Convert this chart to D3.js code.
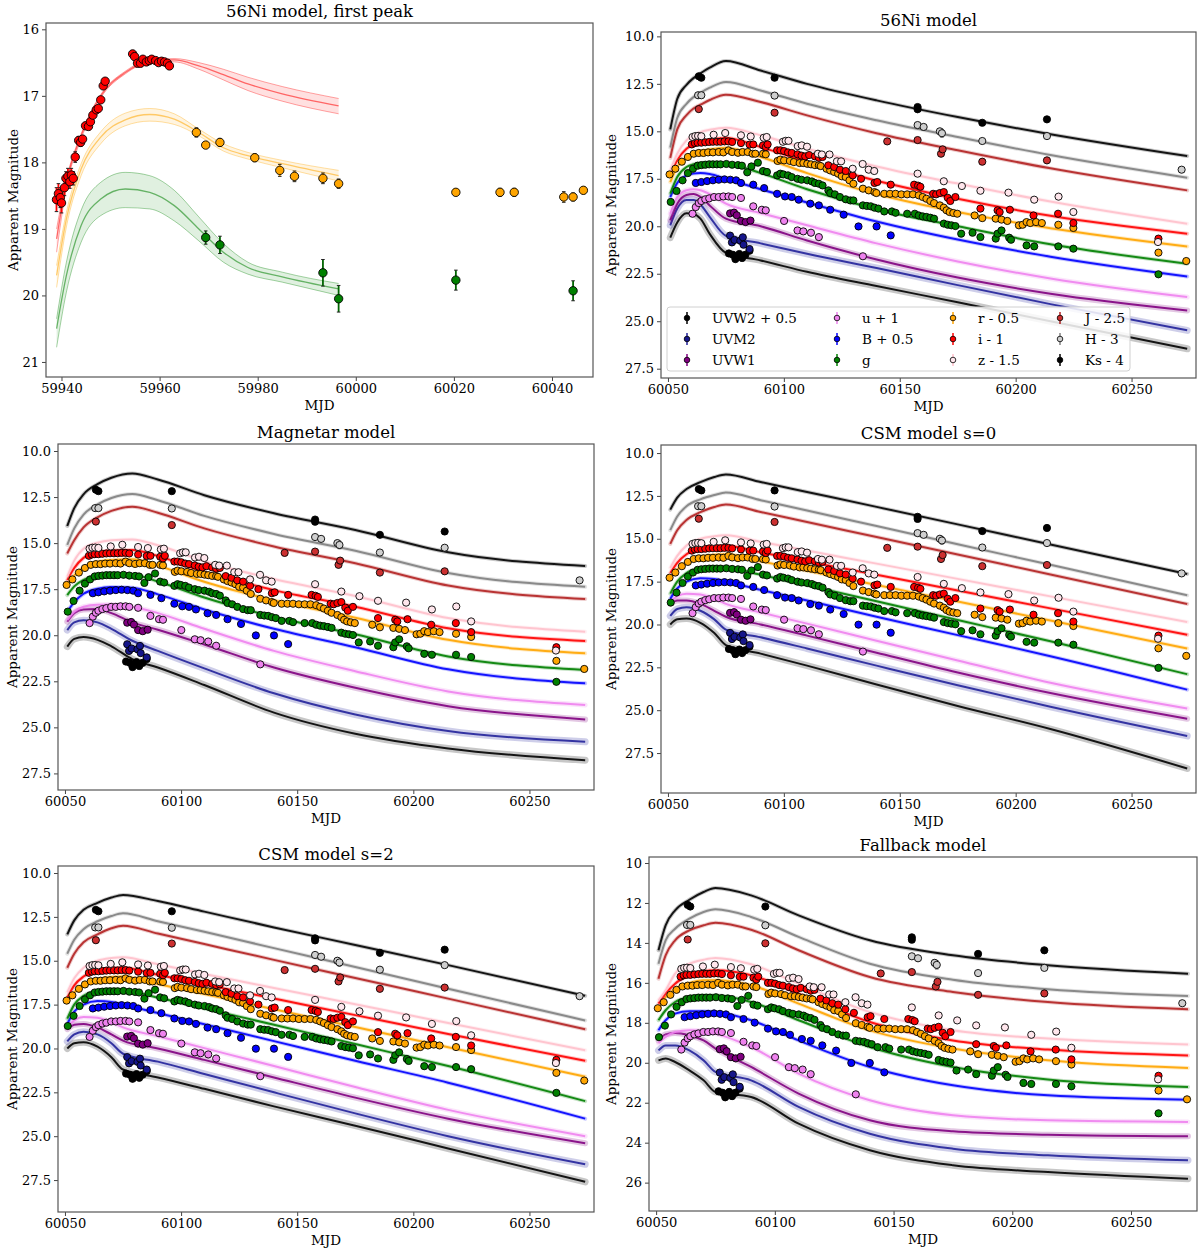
<!DOCTYPE html>
<html>
<head>
<meta charset="utf-8">
<script src="https://cdn.jsdelivr.net/npm/d3@7"></script>
<style>
  body { margin: 0; background: #fff; }
  svg text { font-family: "DejaVu Serif", serif; }
</style>
</head>
<body>
<svg id="fig" width="1200" height="1253"></svg>
<script>
// ---------- bands (plot order) ----------
var bandKeys   = ["UVW2", "UVM2", "UVW1", "u", "B", "g", "r", "i", "z", "J", "H", "Ks"];
var bandLabels = ["UVW2 + 0.5", "UVM2", "UVW1", "u + 1", "B + 0.5", "g", "r - 0.5", "i - 1", "z - 1.5", "J - 2.5", "H - 3", "Ks - 4"];

// ---------- first peak (panel 1) ----------
var fpGrid = [59939, 59941, 59944, 59948, 59953, 59958, 59963, 59968, 59973, 59978, 59985, 59996.5];
var fpRedLo = [19.0, 18.25, 17.57, 16.98, 16.63, 16.46, 16.44, 16.5, 16.6, 16.72, 16.86, 17.04];
var fpRedMid = [19.15, 18.3, 17.6, 17.0, 16.65, 16.48, 16.46, 16.55, 16.68, 16.82, 16.97, 17.15];
var fpRedHi = [19.35, 18.38, 17.65, 17.03, 16.67, 16.5, 16.49, 16.6, 16.76, 16.92, 17.08, 17.27];
var fpOrangeLo = [19.55, 18.75, 18.02, 17.54, 17.26, 17.19, 17.27, 17.5, 17.72, 17.85, 17.97, 18.12];
var fpOrangeMid = [19.7, 18.85, 18.1, 17.62, 17.36, 17.28, 17.35, 17.55, 17.78, 17.9, 18.02, 18.2];
var fpOrangeHi = [19.88, 18.97, 18.2, 17.72, 17.45, 17.38, 17.43, 17.6, 17.83, 17.95, 18.08, 18.28];
var fpGreenLo = [20.35, 19.5, 18.72, 18.3, 18.15, 18.2, 18.42, 18.82, 19.22, 19.5, 19.65, 19.82];
var fpGreenMid = [20.5, 19.7, 18.95, 18.55, 18.4, 18.45, 18.65, 19.0, 19.35, 19.58, 19.72, 19.9];
var fpGreenHi = [20.78, 19.95, 19.2, 18.8, 18.68, 18.7, 18.88, 19.18, 19.5, 19.68, 19.8, 20.0];

var fpRedObs = [[59938.98,18.56,.18],[59939.37,18.47,.15],[59939.76,18.53,.15],[59940.0,18.61,.15],[59940.6,18.38,.12],
  [59940.9,18.24,.1],[59941.3,18.21,.12],[59941.7,18.29,.1],[59942.0,18.19,.1],[59942.4,18.24,.1],[59942.8,17.92,.08],
  [59943.5,17.67,.06],[59943.9,17.7,.06],[59944.3,17.65,.05],[59944.9,17.45],[59945.5,17.46],[59945.9,17.39],
  [59946.4,17.29],[59947.1,17.21],[59947.5,17.19],[59948.0,17.06],[59948.5,16.85],[59948.9,16.78],
  [59954.5,16.37],[59954.9,16.41],[59955.5,16.51],[59956.1,16.51],[59956.6,16.45],[59957.3,16.49],[59957.9,16.47],
  [59958.4,16.45],[59959.2,16.47],[59959.8,16.5],[59960.4,16.48],[59961.0,16.49],[59961.6,16.51],[59962.0,16.55]];
var fpOrangeObs = [[59967.5,17.55,.07],[59969.4,17.74,.05],[59972.3,17.7,.06],[59979.4,17.93,.06],[59984.5,18.12,.09],
  [59987.5,18.21,.08],[59993.3,18.24,.08],[59996.5,18.32,.07],[60020.4,18.45,.05],[60029.4,18.45,.06],
  [60032.3,18.45,.06],[60042.4,18.52,.08],[60044.3,18.52,.06],[60046.4,18.42,.05]];
var fpGreenObs = [[59969.4,19.13,.1],[59972.3,19.24,.13],[59993.3,19.66,.2],[59996.5,20.05,.2],[60020.4,19.77,.15],[60044.3,19.93,.15]];

// ---------- observed light curve (panels 2-6), offsets already applied ----------
var obsUVW2 = [[60076.3,21.43,.15],[60078.0,21.5,.15],[60079.1,21.73,.15],[60080.8,21.46,.15],[60082.0,21.67,.15],[60083.4,21.5,.15],[60085.2,21.29,.15]];
var obsUVM2 = [[60076.8,20.49,.12],[60077.6,20.85,.15],[60078.7,20.72,.12],[60081.2,20.76,.15],[60082.3,20.58,.12],[60082.6,20.97,.15],[60085.2,21.2,.15]];
var obsUVW1 = [[60076.8,19.32,.08],[60078.5,19.28,.08],[60079.7,19.42,.08],[60081.5,19.72,.1],[60083.5,19.78,.1],[60085.6,19.7,.1]];
var obsU = [[60060.6,19.34],[60062.0,18.99],[60063.3,18.78],[60064.4,18.67],[60066.1,18.58],[60067.8,18.53],[60069.9,18.46],
  [60071.9,18.46],[60073.9,18.43],[60076.1,18.43],[60077.7,18.46],[60081.5,18.51],[60086.8,18.95],[60090.5,19.13],
  [60092.2,19.16],[60100.1,19.72,.12],[60105.9,20.22],[60108.4,20.27],[60111.7,20.34],[60115.1,20.57],[60134.1,21.58]];
var obsB = [[60062.0,17.72],[60064.4,17.67],[60066.9,17.62],[60069.4,17.58],[60071.9,17.55],[60074.4,17.53],[60076.9,17.55],
  [60079.4,17.58],[60081.5,17.72],[60086.8,17.81],[60091.5,17.99],[60097.1,18.29,.1],[60100.5,18.43],[60103.4,18.46],
  [60106.4,18.6],[60111.4,18.81],[60115.1,18.9],[60120.0,19.13],[60125.8,19.39],[60132.2,20.01,.12],[60140.0,20.01],[60146.1,20.48]];
var obsG = [[60051.2,18.72],[60053.7,18.14],[60056.3,17.58],[60058.6,17.2],[60060.8,16.97],[60062.8,16.81],[60064.4,16.78],
  [60066.1,16.76],[60067.8,16.74],[60069.4,16.74],[60071.1,16.74],[60072.7,16.74],[60075.2,16.72],[60077.7,16.76],
  [60080.2,16.78],[60081.9,16.81],[60084.2,17.16,.1],[60086.0,16.85],[60088.8,16.65,.08],[60091.0,17.09],[60092.7,17.14],
  [60097.1,17.32,.1],[60098.5,17.23],[60099.8,17.27],[60101.8,17.32],[60103.4,17.41],[60105.9,17.5],[60107.6,17.55],
  [60110.1,17.58],[60112.1,17.64],[60113.4,17.72],[60115.1,17.76],[60116.7,17.85],[60119.2,18.11],[60120.0,18.25],
  [60122.0,18.32],[60124.2,18.46],[60126.7,18.58],[60128.7,18.64],[60130.0,18.64],[60134.1,18.9],[60135.8,18.93],
  [60137.5,18.95],[60139.1,19.02],[60140.8,19.07],[60143.3,19.22],[60146.6,19.22],[60148.2,19.29],[60153.2,19.34],
  [60156.5,19.34],[60158.2,19.43,.1],[60159.9,19.48],[60161.5,19.51],[60163.2,19.55],[60164.8,19.6],[60169.0,19.86],
  [60170.7,19.92],[60172.3,19.95],[60174.0,19.99],[60176.5,20.39],[60181.4,20.34],[60184.8,20.57],[60191.4,20.65,.12],
  [60192.2,20.39],[60193.9,20.22],[60197.2,20.6],[60198.0,20.71],[60204.7,21.01,.15],[60208.0,21.06],[60218.4,21.06],
  [60224.9,21.18],[60261.6,22.53,.12]];
var obsR = [[60050.7,17.27],[60053.2,16.97],[60056.0,16.6],[60058.6,16.35],[60061.1,16.18],[60063.3,16.14],[60065.3,16.14],
  [60067.3,16.11],[60069.4,16.11],[60071.9,16.09],[60073.9,16.11],[60076.1,16.0],[60077.7,16.09],[60080.2,16.13],
  [60082.2,16.09],[60084.4,16.09],[60086.5,16.18],[60087.7,16.18],[60091.0,16.18],[60092.2,16.21],[60097.3,16.56],
  [60098.5,16.49],[60100.1,16.53],[60102.6,16.56],[60104.3,16.62],[60106.8,16.67],[60108.4,16.67],[60110.1,16.71],
  [60111.7,16.74],[60113.4,16.78],[60115.1,16.79],[60115.9,16.83],[60118.4,16.97],[60120.0,17.06],[60121.7,17.14],
  [60123.4,17.23],[60125.0,17.37],[60126.7,17.41],[60128.3,17.58],[60130.0,17.76],[60134.1,18.02],[60136.6,18.11],
  [60139.1,18.2],[60139.9,18.25],[60143.3,18.29],[60145.8,18.29],[60148.2,18.29],[60150.7,18.32],[60153.2,18.32],
  [60155.7,18.32],[60158.2,18.37],[60159.9,18.46],[60161.5,18.55],[60163.2,18.67],[60164.8,18.78],[60167.3,18.9],
  [60169.0,19.02],[60170.2,19.16],[60171.5,19.25],[60173.1,19.3],[60174.8,19.34],[60182.3,19.43,.1],[60185.6,19.57,.1],
  [60191.4,19.6,.1],[60193.9,19.65,.1],[60196.4,19.72],[60201.4,19.95,.1],[60203.0,19.92],[60204.7,19.78],[60206.3,19.83],
  [60208.8,19.78,.1],[60211.3,19.83],[60218.4,19.92],[60224.9,20.09],[60261.6,21.39,.1],[60273.6,21.83,.12]];
var obsI = [[60060.3,15.69],[60061.6,15.62],[60062.8,15.6],[60064.4,15.6],[60066.1,15.58],[60067.8,15.56],[60069.4,15.55],
  [60071.1,15.55],[60072.7,15.55],[60074.4,15.53],[60076.1,15.53],[60077.7,15.56],[60081.5,15.62],[60085.2,15.7],
  [60086.8,15.69],[60091.0,15.74],[60092.2,15.83],[60093.0,15.69],[60097.1,16.0],[60098.5,16.0],[60100.1,16.04],
  [60101.8,16.11],[60103.4,16.14],[60105.9,16.21],[60107.6,16.28],[60109.2,16.32],[60110.9,16.25],[60113.4,16.32],
  [60115.1,16.39],[60116.7,16.35],[60119.2,16.79],[60121.7,16.88],[60124.2,17.02],[60126.7,17.09],[60129.7,17.32],
  [60133.3,17.5],[60139.1,17.72],[60140.3,17.67],[60146.1,17.81],[60156.2,17.81],[60157.9,17.86],[60158.9,17.92],
  [60164.4,18.29],[60165.7,18.32],[60167.3,18.25],[60169.0,18.2],[60170.7,18.5],[60171.8,18.67],[60174.0,18.46],
  [60184.8,19.07],[60192.2,19.16],[60193.1,19.25],[60197.5,19.13],[60207.7,19.43],[60218.3,19.34],[60224.9,19.83],
  [60261.6,20.65,.1]];
var obsZ = [[60060.6,15.3],[60061.8,15.25],[60063.0,15.24],[60064.4,15.26],[60069.7,15.18],[60074.7,15.09],[60081.5,15.21],
  [60085.7,15.27],[60091.3,15.34],[60092.6,15.3],[60099.6,15.55],[60100.8,15.5],[60102.0,15.5],[60106.0,15.78],
  [60107.7,15.74],[60110.0,15.81],[60114.7,16.18],[60116.4,16.22],[60119.7,16.22],[60122.9,16.58],[60124.7,16.58],
  [60129.7,16.97,.12],[60134.0,16.72],[60136.6,17.02],[60139.0,17.09],[60157.7,17.23],[60169.0,17.63],[60176.8,17.88],
  [60184.8,18.13],[60196.9,18.23],[60208.0,18.6],[60218.5,18.44],[60224.9,19.25,.08],[60261.4,20.83,.1]];
var obsJ = [[60063.3,13.83],[60096.0,14.02],[60144.6,15.53,.1],[60157.7,15.46],[60167.8,16.18,.15],[60168.5,15.95,.12],[60185.6,16.6],[60213.5,16.53]];
var obsH = [[60063.0,13.1],[60064.4,13.1],[60096.0,13.12],[60157.7,14.67],[60160.3,14.77,.12],[60167.3,15.0,.15],[60168.2,15.1,.2],[60185.6,15.51],[60213.5,15.25],[60271.6,17.02,.08]];
var obsKs = [[60063.3,12.1,.12],[60064.4,12.18,.12],[60096.0,12.18],[60157.7,13.72,.1],[60157.7,13.84],[60185.6,14.55],[60213.5,14.37]];

// ---------- model curves, one row per band (bandKeys order) ----------
var niGrid = [60051, 60054, 60058, 60061, 60064, 60068, 60075, 60090, 60110, 60140, 60175, 60215, 60274];
var niMags = [
  [20.6, 19.8, 19.32, 19.35, 19.6, 20.4, 21.4, 21.8, 22.4, 23.15, 24.0, 25.0, 26.45],
  [19.95, 19.07, 18.62, 18.62, 18.85, 19.5, 20.5, 20.9, 21.45, 22.2, 23.1, 24.1, 25.48],
  [19.69, 18.81, 18.35, 18.3, 18.45, 18.9, 19.6, 20.0, 20.75, 21.75, 22.7, 23.55, 24.43],
  [19.34, 18.46, 18.1, 18.05, 18.1, 18.3, 18.81, 19.3, 19.95, 20.9, 21.85, 22.75, 23.73],
  [18.46, 17.72, 17.32, 17.22, 17.2, 17.25, 17.5, 18.05, 18.75, 19.75, 20.7, 21.6, 22.64],
  [18.28, 17.41, 16.88, 16.73, 16.67, 16.63, 16.68, 17.2, 18.05, 19.1, 20.0, 20.95, 21.97],
  [17.67, 16.88, 16.35, 16.15, 16.04, 15.95, 15.86, 16.35, 17.2, 18.3, 19.25, 20.1, 21.06],
  [17.32, 16.53, 15.92, 15.7, 15.56, 15.45, 15.35, 15.83, 16.6, 17.6, 18.55, 19.45, 20.39],
  [17.06, 16.18, 15.48, 15.2, 15.04, 14.92, 14.81, 15.21, 15.92, 16.85, 17.75, 18.7, 19.87],
  [16.4, 14.9, 14.15, 13.8, 13.6, 13.35, 13.07, 13.46, 14.16, 15.1, 16.0, 16.95, 18.11],
  [15.85, 14.3, 13.55, 13.2, 12.97, 12.7, 12.4, 12.85, 13.55, 14.42, 15.3, 16.25, 17.44],
  [14.9, 13.3, 12.55, 12.2, 11.95, 11.65, 11.3, 11.8, 12.5, 13.37, 14.25, 15.15, 16.3]
];

var magGrid = [60051, 60054, 60058, 60064, 60070, 60079, 60090, 60110, 60140, 60175, 60215, 60274];
var magMags = [
  [20.62, 20.2, 20.1, 20.25, 20.6, 21.3, 21.75, 22.7, 24.2, 25.35, 26.15, 26.78],
  [19.72, 19.3, 19.18, 19.3, 19.65, 20.3, 20.85, 21.8, 23.15, 24.3, 25.2, 25.78],
  [19.27, 18.8, 18.6, 18.58, 18.8, 19.3, 19.7, 20.5, 21.75, 22.85, 23.85, 24.57],
  [19.17, 18.72, 18.45, 18.34, 18.33, 18.45, 18.8, 19.65, 20.85, 21.95, 23.05, 23.79],
  [18.72, 18.2, 17.75, 17.47, 17.38, 17.42, 17.78, 18.6, 19.65, 20.65, 21.85, 22.61],
  [17.82, 17.35, 17.0, 16.78, 16.7, 16.72, 17.08, 17.95, 19.0, 19.95, 21.15, 21.89],
  [17.27, 16.75, 16.3, 16.02, 15.92, 15.88, 16.22, 17.1, 18.1, 19.05, 20.25, 20.98],
  [17.0, 16.35, 15.8, 15.5, 15.4, 15.37, 15.7, 16.57, 17.55, 18.45, 19.62, 20.31],
  [16.82, 15.95, 15.3, 14.98, 14.85, 14.8, 15.12, 15.98, 16.95, 17.87, 19.07, 19.81],
  [15.56, 14.85, 14.15, 13.6, 13.25, 13.02, 13.35, 14.2, 15.18, 16.09, 17.3, 18.03],
  [15.1, 14.2, 13.45, 12.9, 12.55, 12.33, 12.67, 13.52, 14.5, 15.41, 16.62, 17.37],
  [14.07, 13.1, 12.35, 11.8, 11.45, 11.22, 11.55, 12.4, 13.38, 14.29, 15.5, 16.24]
];

var csmGrid = [60051, 60054, 60058, 60064, 60070, 60075, 60090, 60110, 60140, 60175, 60215, 60274];
var csm0Mags = [
  [20.0, 19.7, 19.65, 19.9, 20.5, 21.2, 21.7, 22.4, 23.5, 24.75, 26.1, 28.4],
  [19.5, 19.1, 19.0, 19.2, 19.7, 20.3, 20.75, 21.4, 22.4, 23.55, 24.8, 26.5],
  [18.8, 18.6, 18.6, 18.8, 19.2, 19.55, 20.0, 20.65, 21.65, 22.8, 24.0, 25.5],
  [18.7, 18.35, 18.2, 18.25, 18.5, 18.8, 19.3, 19.95, 20.95, 22.1, 23.4, 24.9],
  [18.5, 17.9, 17.5, 17.3, 17.35, 17.5, 17.98, 18.6, 19.55, 20.62, 21.85, 23.8],
  [18.2, 17.5, 17.0, 16.72, 16.62, 16.65, 17.1, 17.72, 18.65, 19.74, 20.98, 22.9],
  [17.3, 16.8, 16.35, 16.05, 15.93, 15.9, 16.31, 16.87, 17.7, 18.66, 19.77, 21.4],
  [17.0, 16.4, 15.9, 15.55, 15.43, 15.4, 15.79, 16.32, 17.1, 18.02, 19.06, 20.6],
  [16.7, 16.0, 15.4, 15.0, 14.85, 14.8, 15.18, 15.69, 16.45, 17.34, 18.36, 19.85],
  [15.3, 14.5, 13.9, 13.45, 13.15, 13.0, 13.44, 14.02, 14.9, 15.92, 17.08, 18.8],
  [14.5, 13.7, 13.1, 12.7, 12.45, 12.3, 12.75, 13.35, 14.26, 15.32, 16.52, 18.3],
  [13.3, 12.6, 12.1, 11.7, 11.4, 11.25, 11.69, 12.27, 13.14, 14.16, 15.33, 17.05]
];
var csm2Mags = [
  [20.0, 19.7, 19.65, 19.9, 20.5, 21.2, 21.65, 22.3, 23.3, 24.4, 25.7, 27.6],
  [19.6, 19.2, 19.05, 19.2, 19.7, 20.3, 20.75, 21.45, 22.5, 23.7, 25.0, 26.6],
  [18.9, 18.65, 18.6, 18.8, 19.2, 19.55, 20.0, 20.65, 21.65, 22.8, 24.0, 25.4],
  [18.8, 18.4, 18.2, 18.25, 18.5, 18.8, 19.3, 19.98, 21.0, 22.2, 23.5, 25.0],
  [18.6, 17.9, 17.5, 17.3, 17.35, 17.5, 17.98, 18.62, 19.58, 20.7, 21.95, 24.0],
  [18.3, 17.5, 17.0, 16.72, 16.62, 16.65, 17.1, 17.72, 18.65, 19.75, 21.0, 23.0],
  [17.4, 16.8, 16.35, 16.05, 15.93, 15.9, 16.33, 16.9, 17.77, 18.78, 19.93, 21.6],
  [17.1, 16.4, 15.9, 15.55, 15.43, 15.4, 15.8, 16.35, 17.15, 18.1, 19.18, 20.7],
  [16.8, 16.0, 15.4, 15.0, 14.85, 14.8, 15.2, 15.75, 16.55, 17.48, 18.55, 20.1],
  [15.4, 14.6, 13.95, 13.5, 13.15, 13.0, 13.45, 14.05, 14.95, 15.98, 17.16, 18.9],
  [14.6, 13.8, 13.2, 12.75, 12.45, 12.3, 12.75, 13.35, 14.28, 15.36, 16.6, 18.4],
  [13.5, 12.7, 12.1, 11.7, 11.4, 11.25, 11.6, 12.2, 13.1, 14.1, 15.25, 17.0]
];

var fbGrid = [60051, 60054, 60058, 60064, 60070, 60075, 60090, 60110, 60140, 60175, 60215, 60274];
var fbMags = [
  [19.88, 19.79, 19.96, 20.38, 20.88, 21.46, 21.71, 23.05, 24.38, 25.13, 25.47, 25.8],
  [19.38, 19.13, 19.13, 19.38, 19.88, 20.46, 20.88, 22.21, 23.55, 24.3, 24.63, 24.88],
  [18.88, 18.58, 18.51, 18.63, 18.88, 19.29, 20.21, 21.54, 22.88, 23.43, 23.6, 23.68],
  [19.01, 18.71, 18.46, 18.37, 18.41, 18.54, 19.21, 20.54, 21.88, 22.63, 22.88, 22.96],
  [18.37, 17.87, 17.54, 17.42, 17.42, 17.46, 17.87, 18.88, 20.21, 21.13, 21.63, 21.85],
  [17.87, 17.37, 16.96, 16.71, 16.62, 16.62, 16.96, 17.87, 19.21, 20.21, 20.84, 21.21],
  [17.29, 16.71, 16.29, 16.01, 15.87, 15.87, 16.12, 17.04, 18.38, 19.29, 19.88, 20.26],
  [17.04, 16.54, 16.04, 15.62, 15.42, 15.37, 15.62, 16.54, 17.96, 18.88, 19.34, 19.63],
  [16.87, 16.37, 15.54, 15.04, 14.84, 14.75, 15.07, 16.04, 17.46, 18.37, 18.79, 19.08],
  [15.79, 14.62, 13.87, 13.37, 13.12, 12.99, 13.34, 14.37, 15.71, 16.46, 16.96, 17.32],
  [15.04, 13.87, 13.29, 12.79, 12.45, 12.32, 12.7, 13.7, 15.04, 15.84, 16.32, 16.66],
  [14.37, 13.12, 12.37, 11.84, 11.45, 11.25, 11.62, 12.62, 13.87, 14.62, 15.12, 15.54]
];

// ---------- ticks ----------
var fpXTicks = [59940, 59960, 59980, 60000, 60020, 60040];
var fpYTicks = [16, 17, 18, 19, 20, 21];
var mainXTicks = [60050, 60100, 60150, 60200, 60250];
var mainYTicks = [10, 12.5, 15, 17.5, 20, 22.5, 25, 27.5];
var fbYTicks = [10, 12, 14, 16, 18, 20, 22, 24, 26];

// ---------- styles ----------
var lineColors = ["#000000", "#22229a", "#800080", "#ee82ee", "#0000ff", "#008000", "#ffa500", "#ff0000", "#ffc0cb", "#b22222", "#808080", "#000000"];
var faceColors = ["#000000", "#16168a", "#800080", "#ee82ee", "#0000ff", "#008000", "#ffa500", "#ff0000", "#ffe6ec", "#cc3030", "#cfcfcf", "#000000"];
var haloWidth  = [7, 7, 6, 5, 4, 4, 4, 4, 4, 4, 4, 4];

var obsByBand = [obsUVW2, obsUVM2, obsUVW1, obsU, obsB, obsG, obsR, obsI, obsZ, obsJ, obsH, obsKs];

var svg = d3.select("#fig");

function setupPanel(p) {
  var x = d3.scaleLinear().domain(p.xd).range([p.l, p.r]);
  var y = d3.scaleLinear().domain(p.yd).range([p.t, p.b]);
  var g = svg.append("g");
  svg.append("clipPath").attr("id", "clip-" + p.id)
    .append("rect").attr("x", p.l).attr("y", p.t).attr("width", p.r - p.l).attr("height", p.b - p.t);
  var plot = g.append("g").attr("clip-path", "url(#clip-" + p.id + ")");

  var xa = g.append("g").attr("transform", "translate(0," + p.b + ")")
    .call(d3.axisBottom(x).tickValues(p.xt).tickFormat(d3.format("d")).tickSize(4).tickPadding(3));
  var ya = g.append("g").attr("transform", "translate(" + p.l + ",0)")
    .call(d3.axisLeft(y).tickValues(p.yt).tickFormat(d3.format(p.fmt)).tickSize(4).tickPadding(3));
  [xa, ya].forEach(function(a) {
    a.select(".domain").remove();
    a.selectAll("line").attr("stroke", "#444");
    a.selectAll("text").attr("font-family", "DejaVu Serif, serif").attr("font-size", 13).attr("fill", "#000");
  });

  g.append("text").attr("x", (p.l + p.r) / 2).attr("y", p.t - 6).attr("text-anchor", "middle")
    .attr("font-size", 16.5).text(p.title);
  g.append("text").attr("x", (p.l + p.r) / 2).attr("y", p.b + 33).attr("text-anchor", "middle")
    .attr("font-size", 13.5).text("MJD");
  g.append("text").attr("transform", "translate(" + p.ylx + "," + ((p.t + p.b) / 2) + ") rotate(-90)")
    .attr("text-anchor", "middle").attr("dominant-baseline", "central").attr("font-size", 13.5).text("Apparent Magnitude");

  var frame = g.append("rect").attr("x", p.l).attr("y", p.t).attr("width", p.r - p.l).attr("height", p.b - p.t)
    .attr("fill", "none").attr("stroke", "#555").attr("stroke-width", 1.2);
  return { g: g, plot: plot, x: x, y: y, frame: frame };
}

function zip(grid, mags) {
  return grid.map(function(m, i) { return [m, mags[i]]; });
}

function drawObs(layer, x, y, pts, color, face, r) {
  var grp = layer.append("g");
  var errs = pts.filter(function(d) { return d.length > 2; });
  grp.selectAll("line.eb").data(errs).join("line")
    .attr("x1", function(d) { return x(d[0]); }).attr("x2", function(d) { return x(d[0]); })
    .attr("y1", function(d) { return y(d[1] - d[2]); }).attr("y2", function(d) { return y(d[1] + d[2]); })
    .attr("stroke", color).attr("stroke-width", 1.8);
  ["-", "+"].forEach(function(s) {
    grp.selectAll("line.cap" + (s === "-" ? "a" : "b")).data(errs).join("line")
      .attr("x1", function(d) { return x(d[0]) - 1.8; }).attr("x2", function(d) { return x(d[0]) + 1.8; })
      .attr("y1", function(d) { return y(s === "-" ? d[1] - d[2] : d[1] + d[2]); })
      .attr("y2", function(d) { return y(s === "-" ? d[1] - d[2] : d[1] + d[2]); })
      .attr("stroke", "#222").attr("stroke-width", 1);
  });
  grp.selectAll("circle").data(pts).join("circle")
    .attr("cx", function(d) { return x(d[0]); }).attr("cy", function(d) { return y(d[1]); })
    .attr("r", r).attr("fill", face).attr("stroke", "#000").attr("stroke-width", 0.9);
}

// ---------- panel 1 ----------
(function() {
  var p = { id: "fp", title: "56Ni model, first peak", l: 46, r: 593, t: 23, b: 377, ylx: 13,
            xd: [59936.84, 60048.36], yd: [15.905, 21.226], xt: fpXTicks, yt: fpYTicks, fmt: "d" };
  var P = setupPanel(p);
  var line = d3.line().x(function(d) { return P.x(d[0]); }).y(function(d) { return P.y(d[1]); }).curve(d3.curveMonotoneX);
  var area = d3.area().x(function(d) { return P.x(d[0]); }).y0(function(d) { return P.y(d[1]); })
    .y1(function(d) { return P.y(d[2]); }).curve(d3.curveMonotoneX);
  var sets = [
    { lo: fpGreenLo, mid: fpGreenMid, hi: fpGreenHi, c: "#008000" },
    { lo: fpOrangeLo, mid: fpOrangeMid, hi: fpOrangeHi, c: "#ffa500" },
    { lo: fpRedLo, mid: fpRedMid, hi: fpRedHi, c: "#ff0000" }
  ];
  sets.forEach(function(s) {
    var band = fpGrid.map(function(m, i) { return [m, s.lo[i], s.hi[i]]; });
    P.plot.append("path").attr("d", area(band)).attr("fill", s.c).attr("fill-opacity", 0.12);
    [s.lo, s.hi].forEach(function(arr) {
      P.plot.append("path").attr("d", line(zip(fpGrid, arr))).attr("fill", "none")
        .attr("stroke", s.c).attr("stroke-width", 1).attr("stroke-opacity", 0.35);
    });
    P.plot.append("path").attr("d", line(zip(fpGrid, s.mid))).attr("fill", "none")
      .attr("stroke", s.c).attr("stroke-width", 1.3).attr("stroke-opacity", 0.55);
  });
  drawObs(P.plot, P.x, P.y, fpGreenObs, "#006400", "#008000", 4.2);
  drawObs(P.plot, P.x, P.y, fpOrangeObs, "#ffa500", "#ffa500", 4.2);
  drawObs(P.plot, P.x, P.y, fpRedObs, "#ff0000", "#ff0000", 4.2);
  P.frame.raise();
})();

// ---------- panels 2-6 ----------
var mainPanels = [
  { id: "ni", title: "56Ni model", l: 661, r: 1196, t: 32, b: 378, ylx: 611, yd: [9.77, 27.99], grid: niGrid, mags: niMags, legend: true },
  { id: "mag", title: "Magnetar model", l: 58, r: 594, t: 444, b: 790, ylx: 12, yd: [9.62, 28.4], grid: magGrid, mags: magMags },
  { id: "csm0", title: "CSM model s=0", l: 661, r: 1196, t: 445, b: 793, ylx: 611, yd: [9.53, 29.83], grid: csmGrid, mags: csm0Mags },
  { id: "csm2", title: "CSM model s=2", l: 58, r: 594, t: 866, b: 1212, ylx: 12, yd: [9.6, 29.32], grid: csmGrid, mags: csm2Mags },
  { id: "fb", title: "Fallback model", l: 649, r: 1197, t: 857, b: 1211, ylx: 611, yd: [9.7, 27.42], grid: fbGrid, mags: fbMags, yt: fbYTicks, fmt: "d" }
];

mainPanels.forEach(function(p) {
  p.xd = [60047, 60277.8];
  p.xt = mainXTicks;
  if (!p.yt) { p.yt = mainYTicks; p.fmt = ".1f"; }
  var P = setupPanel(p);
  var line = d3.line().x(function(d) { return P.x(d[0]); }).y(function(d) { return P.y(d[1]); }).curve(d3.curveMonotoneX);

  p.mags.forEach(function(row, k) {
    var pts = zip(p.grid, row);
    P.plot.append("path").attr("d", line(pts)).attr("fill", "none").attr("stroke", lineColors[k])
      .attr("stroke-width", haloWidth[k]).attr("stroke-opacity", 0.22).attr("stroke-linecap", "round");
    P.plot.append("path").attr("d", line(pts)).attr("fill", "none").attr("stroke", lineColors[k])
      .attr("stroke-width", 2).attr("stroke-opacity", 0.9);
  });

  obsByBand.forEach(function(pts, k) {
    drawObs(P.plot, P.x, P.y, pts, lineColors[k], faceColors[k], 3.6);
  });

  if (p.legend) {
    var lg = P.g.append("g");
    lg.append("rect").attr("x", 667).attr("y", 307).attr("width", 463).attr("height", 64).attr("rx", 3)
      .attr("fill", "#fff").attr("fill-opacity", 0.85).attr("stroke", "#d0d0d0");
    var colX = [687, 837, 953, 1060];
    var rowY = [318, 339, 360];
    bandKeys.forEach(function(b, k) {
      var cx = colX[Math.floor(k / 3)], cy = rowY[k % 3];
      lg.append("line").attr("x1", cx).attr("x2", cx).attr("y1", cy - 6).attr("y2", cy + 6)
        .attr("stroke", lineColors[k]).attr("stroke-width", 1.5);
      lg.append("circle").attr("cx", cx).attr("cy", cy).attr("r", 2.8)
        .attr("fill", faceColors[k]).attr("stroke", "#000").attr("stroke-width", 0.8);
      lg.append("text").attr("x", cx + 25).attr("y", cy).attr("dominant-baseline", "central")
        .attr("font-size", 13.5).text(bandLabels[k]);
    });
  }
  P.frame.raise();
});
</script>
</body>
</html>
